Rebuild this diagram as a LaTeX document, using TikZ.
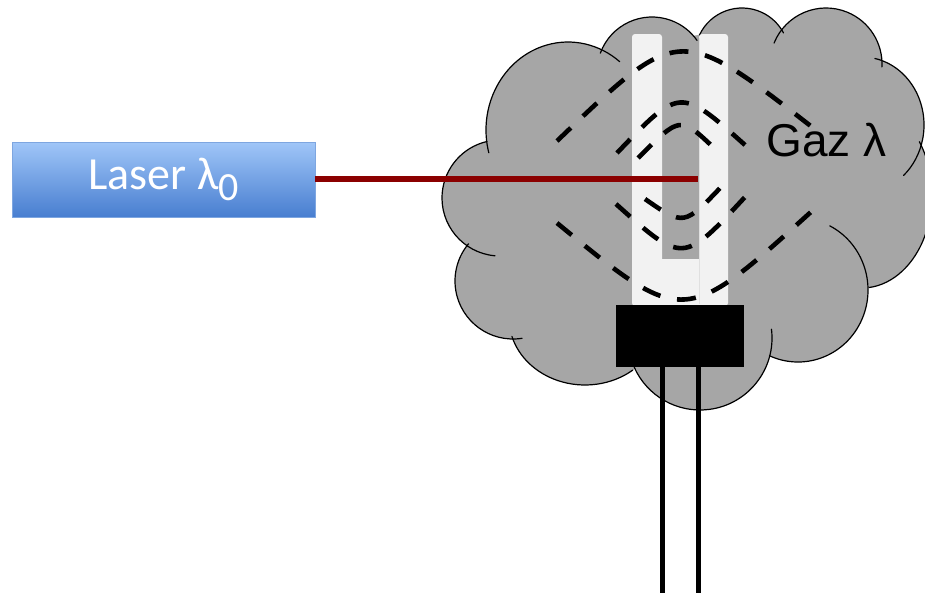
\documentclass[tikz,border=0pt]{standalone}
\usepackage{fontspec}
\setmainfont{Liberation Sans}
\newfontfamily\carlito{Carlito}
\definecolor{cloudgray}{RGB}{166,166,166}
\definecolor{tubewhite}{RGB}{242,242,242}
\definecolor{beamred}{RGB}{139,0,0}
\definecolor{lasertop}{RGB}{160,198,248}
\definecolor{laserbottom}{RGB}{72,126,208}
\definecolor{laseredge}{RGB}{126,166,224}
\begin{document}
\begin{tikzpicture}[x=1pt,y=1pt,yscale=-1,
  cloudline/.style={line width=1.2pt, line cap=round},
  wave/.style={line width=4.6pt, dash pattern=on 19pt off 17pt},
  beam/.style={line width=5.5pt, beamred},
  lead/.style={line width=5pt},
  laserbox/.style={draw=laseredge, line width=0.8pt, top color=lasertop, bottom color=laserbottom,
    minimum width=303pt, minimum height=75pt, inner sep=0pt, text=white},
  basebox/.style={fill=black, minimum width=128pt, minimum height=62pt, inner sep=0pt}
]
\useasboundingbox (0,0) rectangle (925,597);
\fill[white] (0,0) rectangle (925,597);

\begin{scope}
\clip (0,0) rectangle (925,597);
% cloud body: puffs plus core
\foreach \cx/\cy/\rx/\ry in {568/130/82/88, 652/72/55/55, 742/55/47/47, 826/64/56/56,
    862/125/62/68, 862/195/70/93, 798/290/70/72, 700/338/72/72, 585/318/76/67,
    513/281/58/58, 500/198/58/58}
  \fill[cloudgray] (\cx,\cy) ellipse[x radius=\rx, y radius=\ry];
\fill[cloudgray] (487,142) -- (603,52) -- (698,35) -- (785,30) -- (878,58) -- (920,155)
  -- (870,287) -- (770,345) -- (632,368) -- (510,337) -- (468,243) -- cycle;
% cloud outline, one arc per puff
\foreach \cx/\cy/\rx/\ry/\a/\b in {568/130/82/88/165/309, 652/72/55/55/200/325,
    742/55/47/47/205/332, 826/64/56/56/202/363, 862/125/62/68/282/408,
    862/195/70/93/325/444, 798/290/70/72/297/474, 700/338/72/72/353/516,
    585/318/76/67/51/164, 513/281/58/58/81/220, 500/198/58/58/95/257}
  \draw[cloudline] ({\cx+\rx*cos(\a)},{\cy+\ry*sin(\a)})
    arc[start angle=\a, end angle=\b, x radius=\rx, y radius=\ry];
\end{scope}

% U-shaped tube
\fill[tubewhite, rounded corners=3pt] (632,34) rectangle (662,306);
\fill[tubewhite] (661,259) rectangle (700,306);

% laser source and beam
\node[laserbox] (laser) at (163.5,179.5)
  {\carlito\fontsize{46}{50}\selectfont Laser λ\raisebox{-11pt}{\fontsize{40}{42}\selectfont 0}};
\coordinate (beamend) at (698,179);
\draw[beam] (laser.east |- beamend) -- (beamend);

% second branch of the tube
\fill[tubewhite, rounded corners=3pt] (699,34) rectangle (728,306);
\draw[black!12, line width=0.8pt] (699,38) -- (699,304);

% wave fronts
\draw[wave] (557,141) .. controls (679,24) and (679,24) .. (812,127);
\draw[wave] (617,153) .. controls (680,87) and (680,87) .. (745,145);
\draw[wave] (638,158) .. controls (680,116) and (680,116) .. (713,147);
\draw[wave] (557,223) .. controls (683.5,327) and (683.5,327) .. (812,211);
\draw[wave] (616,204) .. controls (683,264) and (683,264) .. (745,197);
\draw[wave] (645,199) .. controls (684,226) and (684,226) .. (722,186);

% socket and leads
\node[basebox] (base) at (680,336) {};
\coordinate (leadL) at (662,593);
\coordinate (leadR) at (698.5,593);
\draw[lead] (base.south -| leadL) -- (leadL);
\draw[lead] (base.south -| leadR) -- (leadR);

% gas label
\node[anchor=base west, inner sep=0pt, font=\fontsize{46}{50}\selectfont] (gaz) at (766,156) {Gaz λ};
\end{tikzpicture}
\end{document}
